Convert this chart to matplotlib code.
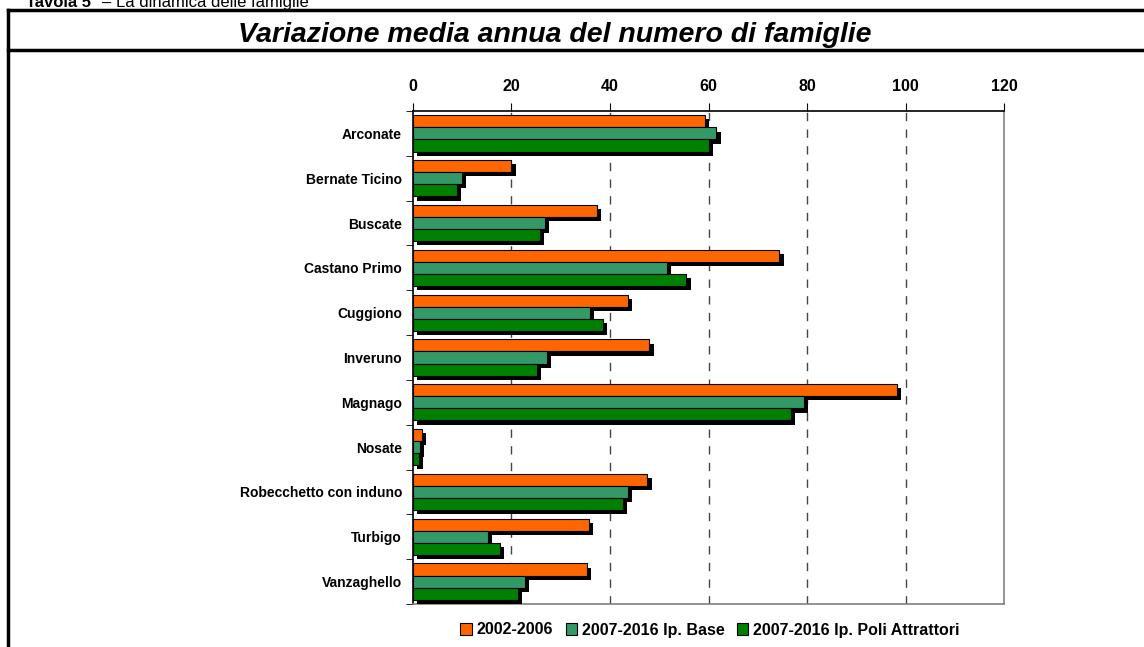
import numpy as np
import matplotlib.pyplot as plt
import matplotlib.patheffects as pe
from matplotlib.patches import Rectangle
from matplotlib.lines import Line2D

plt.rcParams['font.family'] = ['Liberation Sans', 'DejaVu Sans']

comuni = ["Arconate", "Bernate Ticino", "Buscate", "Castano Primo", "Cuggiono",
          "Inveruno", "Magnago", "Nosate", "Robecchetto con induno", "Turbigo",
          "Vanzaghello"]
v_2002_2006 = [59.3, 20.0, 37.4, 74.4, 43.7, 48.0, 98.2, 1.8, 47.6, 35.8, 35.3]
v_base = [61.6, 10.0, 26.8, 51.6, 36.0, 27.2, 79.3, 1.4, 43.7, 15.2, 22.8]
v_poli = [60.0, 9.0, 25.8, 55.5, 38.6, 25.2, 76.8, 1.2, 42.7, 17.7, 21.3]
serie = ["2002-2006", "2007-2016 Ip. Base", "2007-2016 Ip. Poli Attrattori"]
colori = ["#FF6600", "#339966", "#008000"]

fig = plt.figure(figsize=(11.44, 6.47), dpi=100)
ax = fig.add_axes([413/1144, 1-604/647, (1004-413)/1144, (604-111)/647])

y = np.arange(len(comuni))
h = 0.27
ombra = [pe.SimplePatchShadow(offset=(3, -3), shadow_rgbFace='black', alpha=1), pe.Normal()]
for i, (vals, c) in enumerate(zip([v_2002_2006, v_base, v_poli], colori)):
    bars = ax.barh(y - h + i*h, vals, height=h, color=c, edgecolor='black', linewidth=0.8, zorder=3)
    for b in bars:
        b.set_path_effects(ombra)

ax.set_xlim(0, 120)
ax.set_ylim(len(comuni) - 0.5, -0.5)
ax.xaxis.tick_top()
ax.set_xticks(np.arange(0, 121, 20))
ax.tick_params(axis='x', length=6, pad=6, labelsize=11.5, color='black')
for t in ax.get_xticklabels():
    t.set_fontweight('bold')
ax.set_yticks(y)
ax.set_yticklabels(comuni, fontweight='bold', fontsize=10)
ax.tick_params(axis='y', which='major', length=0, pad=8)
ax.set_yticks(np.arange(len(comuni) + 1) - 0.5, minor=True)
ax.tick_params(axis='y', which='minor', length=5, color='black')

for xv in range(20, 101, 20):
    ax.axvline(xv, color='#444444', linestyle=(0, (6, 6)), linewidth=1, zorder=1)

ax.spines['top'].set_color('black')
ax.spines['left'].set_color('black')
ax.spines['right'].set_color('#808080')
ax.spines['bottom'].set_color('#808080')
for s in ax.spines.values():
    s.set_linewidth(1.2)

# cornice
fig.add_artist(Line2D([8/1144, 8/1144], [0, 1-10/647], color='black', lw=2.5, transform=fig.transFigure))
fig.add_artist(Line2D([8/1144, 1], [1-10/647, 1-10/647], color='black', lw=2.5, transform=fig.transFigure))
fig.add_artist(Line2D([8/1144, 1], [1-50/647, 1-50/647], color='black', lw=2.5, transform=fig.transFigure))

fig.text(555/1144, 1-35/647, "Variazione media annua del numero di famiglie",
         ha='center', va='center', fontsize=20.5, fontweight='bold', fontstyle='italic')
fig.text(26/1144, 1-7/647, "Tavola 5", ha='left', va='baseline', fontsize=12, fontweight='bold')
fig.text(102/1144, 1-7/647, "– La dinamica delle famiglie", ha='left', va='baseline', fontsize=12)

handles = [Rectangle((0, 0), 1, 1, facecolor=c, edgecolor='black', linewidth=0.8) for c in colori]
leg = fig.legend(handles, serie, loc='center', bbox_to_anchor=(710/1144, 1-630/647), ncol=3,
                 frameon=False, handlelength=0.7, handleheight=0.7, handletextpad=0.3,
                 columnspacing=0.8, prop={'weight': 'bold', 'size': 11.5})

fig.savefig("out.png", dpi=100)
